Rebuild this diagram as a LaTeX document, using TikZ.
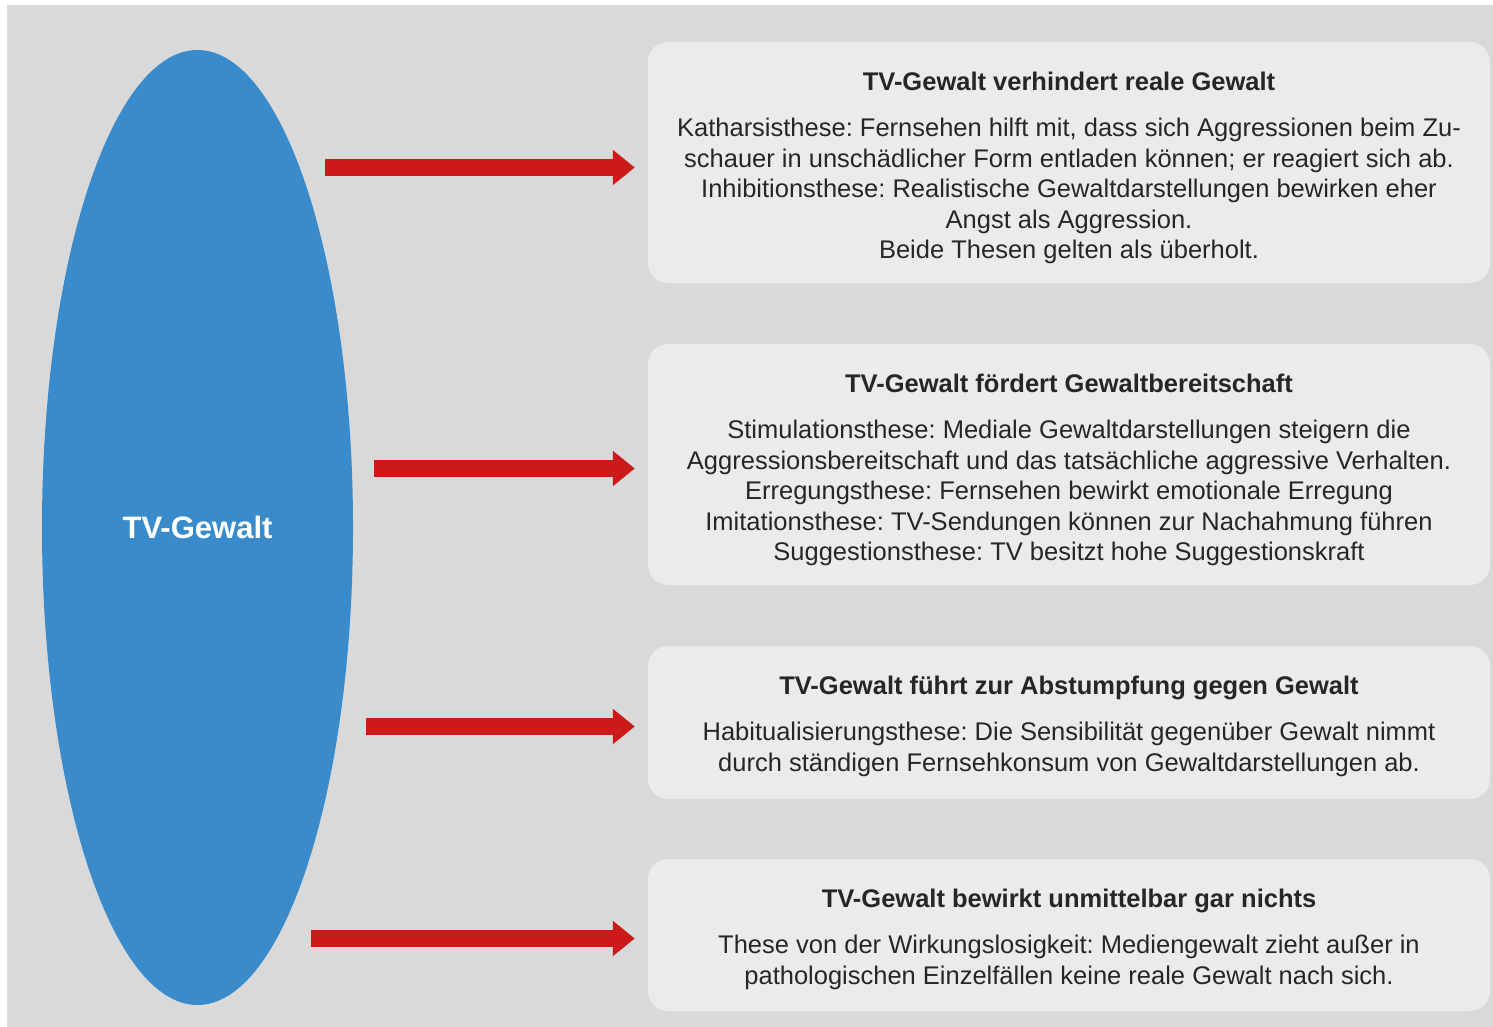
\documentclass[tikz,border=0pt]{standalone}
\usepackage{fontspec}
\setmainfont{Liberation Sans}
\usetikzlibrary{shapes.geometric,arrows.meta}
\frenchspacing
\definecolor{bggray}{HTML}{D9D9D9}
\definecolor{panelgray}{HTML}{EBEBEB}
\definecolor{tvblue}{HTML}{3A8BCB}
\definecolor{arrowred}{HTML}{CC1919}
\definecolor{inkgray}{HTML}{262626}
\tikzset{
  panel/.style={fill=panelgray, draw=none, rounded corners=20pt, inner sep=0pt},
  heading/.style={font=\fontsize{25.5}{30.5}\selectfont\bfseries, text=inkgray, inner sep=0pt},
  bodytext/.style={font=\fontsize{25.5}{30.5}\selectfont, text=inkgray, align=center, inner sep=0pt},
  effect/.style={draw=arrowred, line width=17pt, shorten >=13pt,
    -{Triangle[length=22pt, width=34pt]}},
}
\begin{document}
\begin{tikzpicture}[x=1pt, y=-1pt]
  \useasboundingbox (0,0) rectangle (1493,1027);
  \fill[bggray] (7,5) rectangle (1493,1027);

  % central ellipse
  \node[ellipse, fill=tvblue, inner sep=0pt, minimum width=311pt, minimum height=955pt,
        text=white, font=\fontsize{31}{36}\selectfont\bfseries] (tv) at (197.5,527.5) {TV-Gewalt};

  % panels
  \node[panel, minimum width=842pt, minimum height=241pt] (b1) at (1069,162.5) {};
  \node[panel, minimum width=842pt, minimum height=241pt] (b2) at (1069,464.5) {};
  \node[panel, minimum width=842pt, minimum height=153pt] (b3) at (1069,722.5) {};
  \node[panel, minimum width=842pt, minimum height=152pt] (b4) at (1069,935) {};

  % panel texts
  \node[heading] (h1) at (1069,81) {TV-Gewalt verhindert reale Gewalt};
  \node[bodytext] (t1) at (1069,191) {Katharsisthese: Fernsehen hilft mit, dass sich Aggressionen beim Zu-\\
    schauer in unschädlicher Form entladen können; er reagiert sich ab.\\
    Inhibitionsthese: Realistische Gewaltdarstellungen bewirken eher\\
    Angst als Aggression.\\
    Beide Thesen gelten als überholt.};

  \node[heading] (h2) at (1069,383) {TV-Gewalt fördert Gewaltbereitschaft};
  \node[bodytext] (t2) at (1069,493) {Stimulationsthese: Mediale Gewaltdarstellungen steigern die\\
    Aggressionsbereitschaft und das tatsächliche aggressive Verhalten.\\
    Erregungsthese: Fernsehen bewirkt emotionale Erregung\\
    Imitationsthese: TV-Sendungen können zur Nachahmung führen\\
    Suggestionsthese: TV besitzt hohe Suggestionskraft};

  \node[heading] (h3) at (1069,688) {TV-Gewalt führt zur Abstumpfung gegen Gewalt};
  \node[bodytext] (t3) at (1069,749.5) {Habitualisierungsthese: Die Sensibilität gegenüber Gewalt nimmt\\
    durch ständigen Fernsehkonsum von Gewaltdarstellungen ab.};

  \node[heading] (h4) at (1069,901) {TV-Gewalt bewirkt unmittelbar gar nichts};
  \node[bodytext] (t4) at (1069,962.5) {These von der Wirkungslosigkeit: Mediengewalt zieht außer in\\
    pathologischen Einzelfällen keine reale Gewalt nach sich.};

  % arrows from the ellipse side towards the panels
  \coordinate (s1) at (325,167.5);
  \coordinate (s2) at (374,468.5);
  \coordinate (s3) at (366,726.5);
  \coordinate (s4) at (311,938.5);
  \draw[effect] (s1) -- (s1 -| b1.west);
  \draw[effect] (s2) -- (s2 -| b2.west);
  \draw[effect] (s3) -- (s3 -| b3.west);
  \draw[effect] (s4) -- (s4 -| b4.west);
\end{tikzpicture}
\end{document}
